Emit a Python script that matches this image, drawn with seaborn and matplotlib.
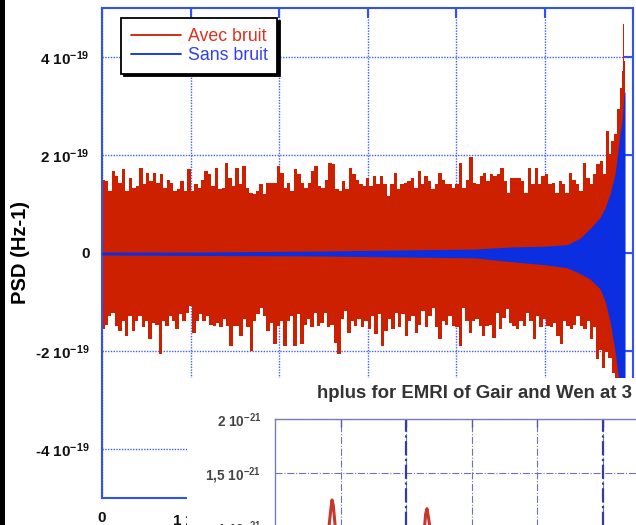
import numpy as np
import matplotlib
matplotlib.use("Agg")
import matplotlib.pyplot as plt
from matplotlib.patches import Rectangle
from matplotlib.lines import Line2D
import seaborn as sns

# ---------------- data (x in units of the tick step, y in 1e-19 Hz^-1) ----------------
red_top_main = [
    1.49, 1.46, 1.27, 1.67, 1.57, 1.43, 1.71, 1.27, 1.54, 1.33, 1.37, 1.74, 1.41, 1.64, 1.47, 1.64,
    1.43, 1.61, 1.33, 1.50, 1.43, 1.27, 1.31, 1.47, 1.27, 1.71, 1.27, 1.41, 1.33, 1.50, 1.67, 1.61,
    1.37, 1.74, 1.31, 1.33, 1.84, 1.54,
    1.37, 1.74, 1.41, 1.78, 1.33, 1.23, 1.20, 1.27, 1.41, 1.20, 1.43, 1.43, 1.43, 1.78, 1.64, 1.33,
    1.43, 1.27, 1.71, 1.61, 1.43, 1.33, 1.43, 1.67, 1.78, 1.37, 1.33, 1.50, 1.84, 1.82, 1.31, 1.27,
    1.47, 1.31, 1.74, 1.61, 1.50, 1.41, 1.37,
    1.54, 1.37, 1.57, 1.41, 1.57, 1.41, 1.16, 1.41, 1.64, 1.31, 1.41, 1.43, 1.47, 1.54, 1.33, 1.67,
    1.41, 1.57, 1.47, 1.31, 1.41, 1.64, 1.50, 1.41, 1.41, 1.33, 1.41, 1.84, 1.33, 1.50, 1.96, 1.43,
    1.41, 1.57, 1.64, 1.47, 1.61,
    1.57, 1.61, 1.74, 1.47, 1.23, 1.54, 1.54, 1.54, 1.47, 1.23, 1.74, 1.41, 1.74, 1.41, 1.57, 1.61,
    1.41, 1.43, 1.23, 1.47, 1.41, 1.23, 1.64, 1.50, 1.41, 1.27, 1.84, 1.54, 1.41, 1.61, 1.82, 1.88,
    1.61,
]
red_top_start, red_top_end = 0.011, 5.684
red_top_tail_x = [5.710, 5.740, 5.771, 5.808, 5.834, 5.861, 5.884, 5.895, 5.910]
red_top_tail = [2.49, 2.02, 2.29, 2.43, 2.94, 3.37, 3.71, 4.67, 3.92]

red_bot_main = [
    -1.56, -1.46, -1.29, -1.22, -1.49, -1.59, -1.39, -1.69, -1.29, -1.59, -1.39, -1.29, -1.52, -1.39,
    -1.76, -1.42, -1.46, -2.07, -1.39, -1.49, -1.29, -1.39, -1.56, -1.25, -1.39, -1.22, -1.08, -1.63,
    -1.39, -1.25, -1.39, -1.29, -1.46, -1.49, -1.42, -1.52, -1.35, -1.49, -1.90, -1.49,
    -1.49, -1.69, -1.35, -1.52, -2.00, -1.39, -1.25, -1.12, -1.29, -1.59, -1.42, -1.86, -1.49, -1.39,
    -1.90, -1.39, -1.29, -1.90, -1.25, -1.86, -1.46, -1.35, -1.52, -1.22, -1.49, -1.42, -1.22, -1.52,
    -1.46, -1.83, -2.07, -1.35, -1.18, -1.63, -1.39, -1.49, -1.35, -1.52, -1.39,
    -1.56, -1.29, -1.66, -1.25, -1.90, -1.59, -1.35, -1.56, -1.22, -1.52, -1.25, -1.69, -1.39, -1.29,
    -1.63, -1.46, -1.18, -1.52, -1.29, -1.12, -1.52, -1.76, -1.39, -1.46, -1.29, -1.49, -1.52, -1.90,
    -1.12, -1.39, -1.63, -1.39, -1.35, -1.49, -1.69, -1.49,
    -1.46, -1.73, -1.22, -1.56, -1.32, -1.15, -1.42, -1.49, -1.56, -1.39, -1.49, -1.22, -1.39, -1.76,
    -1.29, -1.52, -1.35, -1.49, -1.52, -1.42, -1.69, -1.86, -1.39, -1.49, -1.56, -1.46, -1.29, -1.49,
    -1.56, -1.39, -1.76, -1.52,
]
red_bot_start, red_bot_end = 0.011, 5.571
red_bot_tail_x = [5.597, 5.627, 5.664, 5.703, 5.740, 5.778, 5.808, 5.842, 5.876, 5.910]
red_bot_tail = [-2.17, -1.97, -2.34, -2.03, -2.14, -2.44, -2.70, -3.00, -3.40, -3.90]

blue_x = [0.0, 1.107, 2.463, 3.311, 4.215, 4.588, 5.006, 5.254, 5.401, 5.514, 5.627, 5.684,
          5.740, 5.797, 5.831, 5.853, 5.876, 5.898, 5.910]
blue_top = [0.02, 0.02, 0.04, 0.06, 0.08, 0.12, 0.14, 0.17, 0.30, 0.50, 0.72, 0.92,
            1.20, 1.61, 2.10, 2.43, 2.69, 3.24, 3.30]
blue_bot = [-0.04, -0.05, -0.06, -0.08, -0.10, -0.17, -0.24, -0.30, -0.42, -0.53, -0.73, -0.98,
            -1.39, -2.00, -2.47, -2.80, -3.10, -3.50, -3.60]

y_ticks = [-4, -2, 0, 2, 4]
y_tick_labels = ["-4 10$^{-19}$", "-2 10$^{-19}$", "0", "2 10$^{-19}$", "4 10$^{-19}$"]
x_ticks = [0, 1, 2, 3, 4, 5, 6]
# only "0" and the start of the second label are visible; the rest lie under the overlapping screenshot
x_tick_labels = ["0", "1 10$^{5}$", "", "", "", "", ""]
series_names = ["Avec bruit", "Sans bruit"]

# inset (second screenshot) data, y in 1e-21
inset_x = [0.0, 0.5, 0.78, 0.82, 0.85, 0.87, 0.89, 0.92, 0.96, 1.3, 2.0, 2.24, 2.28, 2.30,
           2.32, 2.34, 2.37, 2.41, 2.8, 3.5, 4.5, 5.5, 6.5]
inset_y = [0.60, 0.62, 0.80, 0.98, 1.15, 1.25, 1.20, 1.00, 0.85, 0.62, 0.60, 0.80, 0.98, 1.12,
           1.17, 1.10, 0.98, 0.80, 0.60, 0.60, 0.60, 0.60, 0.60]
inset_y_ticks = [1.0, 1.5, 2.0]
inset_y_labels = ["1 10$^{-21}$", "1,5 10$^{-21}$", "2 10$^{-21}$"]
inset_title = "hplus for EMRI of Gair and Wen at 3"

# ---------------- style ----------------
sns.set_theme(style="white")
plt.rcParams["font.family"] = ["Liberation Sans", "DejaVu Sans"]
plt.rcParams["mathtext.fontset"] = "custom"
plt.rcParams["mathtext.rm"] = "Liberation Sans"
plt.rcParams["mathtext.bf"] = "Liberation Sans:bold"
plt.rcParams["mathtext.default"] = "bf"

RED = "#cc2000"
BLUE = "#0a2ee0"
AXBLUE = "#2f52f0"
GRIDBLUE = "#3d5cff"

W, H = 636, 525
fig = plt.figure(figsize=(W / 100, H / 100), dpi=100)
fig.patch.set_facecolor("white")

ax = fig.add_axes([102 / W, 1 - 498 / H, 531 / W, 490 / H])
ax.set_facecolor("white")

xt = np.concatenate([np.linspace(red_top_start, red_top_end, len(red_top_main)), red_top_tail_x])
yt = np.concatenate([red_top_main, red_top_tail])
xb = np.concatenate([np.linspace(red_bot_start, red_bot_end, len(red_bot_main)), red_bot_tail_x])
yb = np.concatenate([red_bot_main, red_bot_tail])

ax.fill_between(xt, 0, yt, step="mid", color=RED, lw=0, zorder=2)
ax.fill_between(xb, yb, 0, step="mid", color=RED, lw=0, zorder=2)
ax.fill_between(blue_x, blue_bot, blue_top, color=BLUE, lw=0, zorder=3)

ax.set_xlim(0, 6)
ax.set_ylim(-5, 5)
ax.set_yticks(y_ticks, labels=y_tick_labels)
ax.set_xticks(x_ticks, labels=x_tick_labels)
ax.set_axisbelow(True)
ax.grid(True, color=GRIDBLUE, linestyle=(0, (1, 1)), lw=1.0)
for s in ax.spines.values():
    s.set_color(AXBLUE)
    s.set_linewidth(1.5)
ax.tick_params(direction="in", length=7, width=1.5, color=AXBLUE, top=True, right=True,
               labelsize=11, pad=9, labelcolor="#111111")
for lbl in ax.get_yticklabels() + ax.get_xticklabels():
    lbl.set_fontweight("bold")

fig.text(21 / W, 1 - 252 / H, "PSD (Hz-1)", rotation=90, ha="center", va="center",
         fontsize=14.5, fontweight="bold", color="black")

handles = [Line2D([], [], color=RED, lw=1.3), Line2D([], [], color=BLUE, lw=1.3)]
leg = ax.legend(handles, series_names, loc="upper left",
                bbox_to_anchor=((121 - 102) / 531, (498 - 18) / 490), borderaxespad=0,
                fancybox=False, shadow={"color": "black", "alpha": 1}, edgecolor="black",
                framealpha=1, fontsize=12.8, handlelength=2.8, handletextpad=0.4,
                labelspacing=0.12, borderpad=0.55, labelcolor=["#e0301e", "#3040ee"])
leg.get_frame().set_linewidth(1.3)
leg.set_zorder(10)

# ---------------- overlapping second screenshot ----------------
fig.add_artist(Rectangle((187 / W, 0), (W - 187) / W, 1 - 378 / H, transform=fig.transFigure,
                         facecolor="white", edgecolor="none", zorder=5))

iax = fig.add_axes([275 / W, -0.1, 445 / W, (1 - 419 / H) + 0.1], zorder=6)
iax.set_facecolor("white")
sns.lineplot(x=inset_x, y=inset_y, ax=iax, color="#c8372d", lw=2.2)
iax.set_xlim(0, 445 / 65.5)
iax.set_ylim(2 - (577.5 - 419) / 108, 2.0)
iax.set_yticks(inset_y_ticks, labels=inset_y_labels)
iax.set_xticks([1, 2, 3, 4, 5, 6])
iax.xaxis.set_ticks_position("top")
iax.tick_params(axis="x", labeltop=False, labelbottom=False, direction="in", length=6,
                width=1.0, color="#5a5aa8")
iax.tick_params(axis="y", direction="in", length=6, width=1.0, color="#5a5aa8",
                labelsize=9.8, pad=10, labelcolor="#444444")
for lbl in iax.get_yticklabels():
    lbl.set_fontweight("bold")
iax.grid(True, color="#7070c0", linestyle="-.", lw=0.8)
for xv in (2, 5):
    iax.axvline(xv, color="#3a3a9a", linestyle="-.", lw=1.6, zorder=1)
for side in ("right", "bottom"):
    iax.spines[side].set_visible(False)
for side in ("left", "top"):
    iax.spines[side].set_color("#7b7bb5")
    iax.spines[side].set_linewidth(1.0)

fig.text(317 / W, 1 - 393 / H, inset_title, ha="left", va="center", fontsize=13.4,
         fontweight="bold", color="#333333", zorder=8)

fig.add_artist(Rectangle((0, 0), 5 / W, 1, transform=fig.transFigure, facecolor="black",
                         edgecolor="none", zorder=10))

fig.savefig("out.png", dpi=100)
